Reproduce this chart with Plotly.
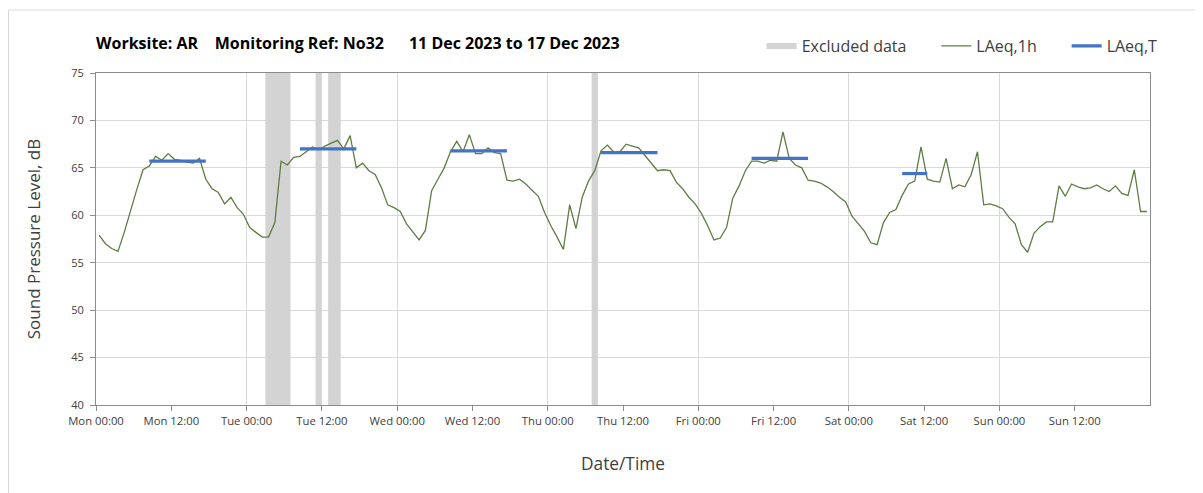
import plotly.graph_objects as go
from datetime import datetime, timedelta

# ---------------- data ----------------
start = datetime(2023, 12, 11)  # Monday 11 Dec 2023

laeq_1h = [
    # Mon
    57.9, 57.0, 56.5, 56.2, 58.2, 60.6, 62.7, 64.8, 65.2, 66.2, 65.8, 66.5,
    65.9, 65.8, 65.6, 65.5, 66.0, 63.8, 62.8, 62.4, 61.2, 61.9, 60.8, 60.1,
    # Tue
    58.7, 58.2, 57.7, 57.7, 59.2, 65.7, 65.3, 66.1, 66.2, 66.7, 67.2, 66.9,
    67.3, 67.6, 67.9, 67.0, 68.4, 65.0, 65.5, 64.7, 64.3, 62.9, 61.1, 60.8,
    # Wed
    60.4, 59.1, 58.2, 57.4, 58.4, 62.6, 63.8, 65.0, 66.7, 67.8, 66.7, 68.5,
    66.5, 66.5, 67.1, 66.6, 66.5, 63.7, 63.6, 63.8, 63.3, 62.6, 62.0, 60.3,
    # Thu
    58.9, 57.7, 56.4, 61.1, 58.6, 61.9, 63.6, 64.7, 66.8, 67.4, 66.7, 66.7,
    67.5, 67.3, 67.1, 66.3, 65.5, 64.7, 64.8, 64.7, 63.5, 62.8, 61.9, 61.2,
    # Fri
    60.2, 58.9, 57.4, 57.6, 58.7, 61.8, 63.1, 64.7, 65.7, 65.7, 65.5, 65.8,
    65.7, 68.8, 66.0, 65.3, 65.0, 63.7, 63.6, 63.4, 63.0, 62.5, 61.9, 61.4,
    # Sat
    59.9, 59.1, 58.3, 57.1, 56.9, 59.2, 60.3, 60.6, 62.1, 63.3, 63.6, 67.2,
    63.8, 63.6, 63.5, 66.0, 62.8, 63.2, 63.0, 64.3, 66.7, 61.1, 61.2, 61.0,
    # Sun
    60.7, 59.8, 59.1, 56.9, 56.1, 58.1, 58.8, 59.3, 59.3, 63.1, 62.0, 63.3,
    63.0, 62.8, 62.9, 63.2, 62.8, 62.5, 63.1, 62.3, 62.1, 64.8, 60.4, 60.4,
]

# LAeq,T periods (day index, first hour, last hour, level)
t_day = [0, 1, 2, 3, 4, 5]
t_first_hour = [8, 8, 8, 8, 8, 8]
t_last_hour = [17, 17, 17, 17, 17, 12]
t_value = [65.7, 67.0, 66.8, 66.6, 66.0, 64.4]

# Excluded data periods (hours from start)
excl_start_hour = [27, 35, 37, 79]
excl_end_hour = [31, 36, 39, 80]

y_min, y_max = 40, 75
n_days = 7
tick_step_hours = 12

# ---------------- build ----------------
def t(h):
    return start + timedelta(hours=h)

x_1h = [t(h + 0.5) for h in range(len(laeq_1h))]

xt, yt = [], []
for d, h0, h1, v in zip(t_day, t_first_hour, t_last_hour, t_value):
    for h in range(h0, h1 + 1):
        xt.append(t(24 * d + h + 0.5))
        yt.append(v)
    xt.append(None)
    yt.append(None)

xe, ye = [], []
for s, e in zip(excl_start_hour, excl_end_hour):
    xe += [t(s), t(e), t(e), t(s), t(s), None]
    ye += [y_min, y_min, y_max, y_max, y_min, None]

FONT = "Open Sans"
grey_txt = "#404040"
axis_grey = "#8c8c8c"
GAP = "\u00a0" * 6

W, H = 1195, 485           # page has an 8px body margin
L, T, PW, PH = 88, 65, 1054, 332

fig = go.Figure()
fig.add_trace(go.Scatter(
    x=xe, y=ye, mode="none", fill="toself", fillcolor="#d3d3d3",
    name="Excluded data" + GAP, hoverinfo="skip",
))
fig.add_trace(go.Scatter(
    x=x_1h, y=laeq_1h, mode="lines", name="LAeq,1h" + GAP,
    line=dict(color="#5e7d43", width=1.3),
))
fig.add_trace(go.Scatter(
    x=xt, y=yt, mode="lines", name="LAeq,T",
    line=dict(color="#4472c4", width=3.2),
))

x_range = [t(0), t(24 * n_days)]
tickvals = [t(h) for h in range(0, 24 * n_days, tick_step_hours)]
ticktext = [v.strftime("%a %H:%M") for v in tickvals]

# carrier trace so the labelled time axis is drawn
fig.add_trace(go.Scatter(
    x=x_range, y=[y_min, y_min], xaxis="x2", mode="lines",
    line=dict(width=0, color="rgba(0,0,0,0)"), showlegend=False,
    hoverinfo="skip",
))

fig.update_layout(
    width=W, height=H,
    margin=dict(l=L, r=W - L - PW, t=T, b=H - T - PH),
    paper_bgcolor="white", plot_bgcolor="white",
    font=dict(family=FONT, color=grey_txt),
    title=dict(
        text="<b>Worksite: AR\u00a0\u00a0\u00a0 Monitoring Ref: No32\u00a0\u00a0\u00a0\u00a0\u00a0 11 Dec 2023 to 17 Dec 2023</b>",
        x=L / W, xanchor="left", y=1 - 35 / H, yanchor="middle",
        font=dict(family=FONT, size=16, color="#000000"),
    ),
    legend=dict(
        orientation="h", x=1.012, xanchor="right", y=1 + 27 / PH, yanchor="middle",
        font=dict(family=FONT, size=16, color=grey_txt),
        bgcolor="rgba(0,0,0,0)",
    ),
    showlegend=True,
    xaxis=dict(
        type="date", range=x_range, dtick=24 * 3600 * 1000, tick0=t(0),
        showgrid=True, gridcolor="#d9d9d9", gridwidth=1,
        showticklabels=False, ticks="", showline=True, linecolor=axis_grey,
        mirror=True, zeroline=False,
    ),
    xaxis2=dict(
        type="date", range=x_range, overlaying="x", anchor="y", side="bottom",
        tickmode="array", tickvals=tickvals, ticktext=ticktext,
        showgrid=False, ticks="outside", ticklen=5, tickcolor=axis_grey,
        showline=True, linecolor=axis_grey, zeroline=False,
        tickfont=dict(family=FONT, size=11.3, color=grey_txt),
        title=dict(text="Date/Time", standoff=31,
                   font=dict(family=FONT, size=17.3, color=grey_txt)),
    ),
    yaxis=dict(
        range=[y_min, y_max], dtick=5, showgrid=True, gridcolor="#d9d9d9",
        ticks="outside", ticklen=5, tickcolor=axis_grey, ticklabelstandoff=4,
        showline=True, linecolor=axis_grey, mirror=True, zeroline=False,
        tickfont=dict(family=FONT, size=11, color=grey_txt),
        title=dict(text="Sound Pressure Level, dB", standoff=26,
                   font=dict(family=FONT, size=17, color=grey_txt)),
    ),
    shapes=[dict(
        type="rect", xref="paper", yref="paper",
        x0=(0.5 - L) / PW, x1=(W + 20 - L) / PW,
        y0=-(H + 20 - T - PH) / PH, y1=1 + (T - 2) / PH,
        line=dict(color="#d9d9d9", width=1), fillcolor="rgba(0,0,0,0)",
        layer="below",
    )],
)

fig.write_html("out.html")
